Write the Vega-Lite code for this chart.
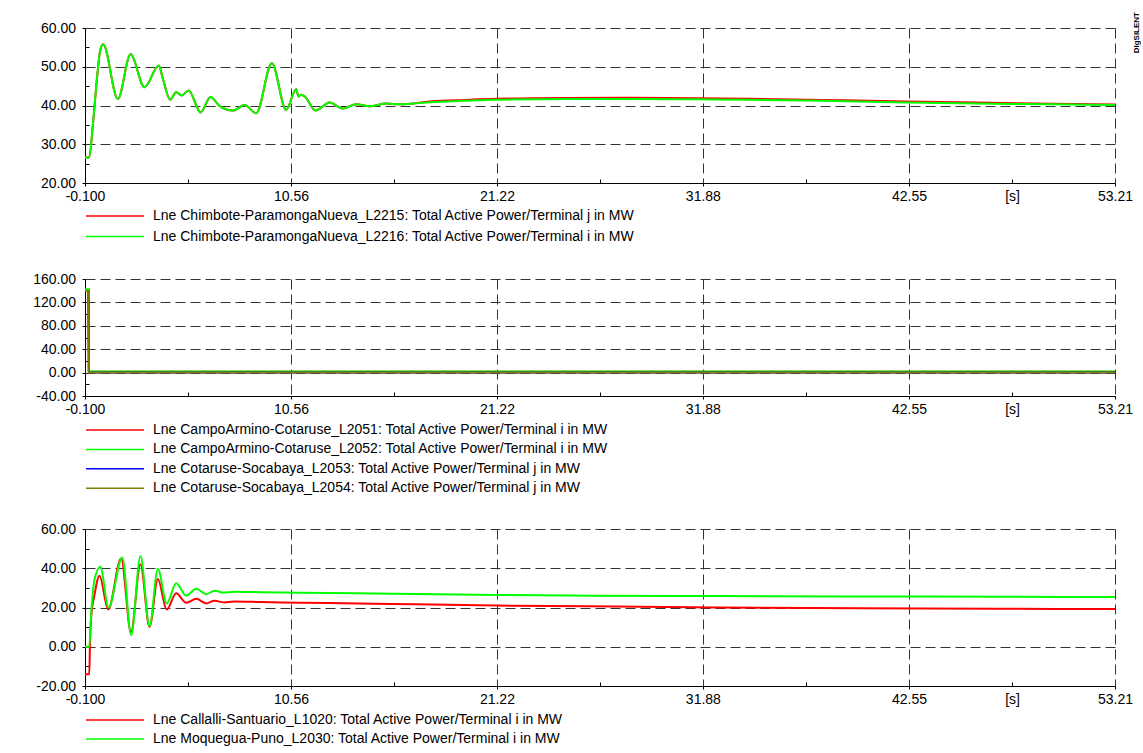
{
  "$schema": "https://vega.github.io/schema/vega-lite/v6.json",
  "background": "white",
  "padding": {"left": 0, "top": 12, "right": 0, "bottom": 0},
  "spacing": 0,
  "resolve": {"scale": {"color": "independent", "x": "independent", "y": "independent"}, "legend": {"color": "independent"}},
  "config": {
    "font": "Liberation Sans",
    "view": {"stroke": null},
    "axis": {
      "labelFont": "Liberation Sans",
      "labelFontSize": 14,
      "labelColor": "black",
      "domainColor": "black",
      "domainWidth": 1,
      "tickColor": "black",
      "tickWidth": 1,
      "gridColor": "#333333",
      "gridDash": [10, 5],
      "gridWidth": 1,
      "labelFlush": false,
      "labelOverlap": false,
      "labelBound": false
    },
    "legend": {
      "labelFont": "Liberation Sans",
      "labelFontSize": 14,
      "labelColor": "black",
      "labelLimit": 1000,
      "symbolType": "stroke",
      "symbolSize": 3364,
      "symbolStrokeWidth": 1.5,
      "clipHeight": 14,
      "labelOffset": 8,
      "padding": 0,
      "orient": "none",
      "direction": "vertical",
      "legendX": 0
    }
  },
  "datasets": {
    "p1": [
      {"s": "Lne Chimbote-ParamongaNueva_L2215: Total Active Power/Terminal j in MW", "t": -0.1, "v": 26.6},
      {"s": "Lne Chimbote-ParamongaNueva_L2215: Total Active Power/Terminal j in MW", "t": 0.12, "v": 26.6},
      {"s": "Lne Chimbote-ParamongaNueva_L2215: Total Active Power/Terminal j in MW", "t": 0.3, "v": 34.6},
      {"s": "Lne Chimbote-ParamongaNueva_L2215: Total Active Power/Terminal j in MW", "t": 0.53, "v": 47.5},
      {"s": "Lne Chimbote-ParamongaNueva_L2215: Total Active Power/Terminal j in MW", "t": 0.69, "v": 54.3},
      {"s": "Lne Chimbote-ParamongaNueva_L2215: Total Active Power/Terminal j in MW", "t": 0.84, "v": 55.8},
      {"s": "Lne Chimbote-ParamongaNueva_L2215: Total Active Power/Terminal j in MW", "t": 1.6, "v": 41.7},
      {"s": "Lne Chimbote-ParamongaNueva_L2215: Total Active Power/Terminal j in MW", "t": 2.26, "v": 53.2},
      {"s": "Lne Chimbote-ParamongaNueva_L2215: Total Active Power/Terminal j in MW", "t": 2.98, "v": 44.7},
      {"s": "Lne Chimbote-ParamongaNueva_L2215: Total Active Power/Terminal j in MW", "t": 3.72, "v": 50.3},
      {"s": "Lne Chimbote-ParamongaNueva_L2215: Total Active Power/Terminal j in MW", "t": 3.92, "v": 47.1},
      {"s": "Lne Chimbote-ParamongaNueva_L2215: Total Active Power/Terminal j in MW", "t": 4.31, "v": 41.5},
      {"s": "Lne Chimbote-ParamongaNueva_L2215: Total Active Power/Terminal j in MW", "t": 4.62, "v": 43.4},
      {"s": "Lne Chimbote-ParamongaNueva_L2215: Total Active Power/Terminal j in MW", "t": 4.91, "v": 42.6},
      {"s": "Lne Chimbote-ParamongaNueva_L2215: Total Active Power/Terminal j in MW", "t": 5.27, "v": 43.9},
      {"s": "Lne Chimbote-ParamongaNueva_L2215: Total Active Power/Terminal j in MW", "t": 5.88, "v": 38.2},
      {"s": "Lne Chimbote-ParamongaNueva_L2215: Total Active Power/Terminal j in MW", "t": 6.4, "v": 42.2},
      {"s": "Lne Chimbote-ParamongaNueva_L2215: Total Active Power/Terminal j in MW", "t": 6.86, "v": 39.9},
      {"s": "Lne Chimbote-ParamongaNueva_L2215: Total Active Power/Terminal j in MW", "t": 7.55, "v": 38.7},
      {"s": "Lne Chimbote-ParamongaNueva_L2215: Total Active Power/Terminal j in MW", "t": 8.16, "v": 40.1},
      {"s": "Lne Chimbote-ParamongaNueva_L2215: Total Active Power/Terminal j in MW", "t": 8.76, "v": 38.0},
      {"s": "Lne Chimbote-ParamongaNueva_L2215: Total Active Power/Terminal j in MW", "t": 9.57, "v": 50.9},
      {"s": "Lne Chimbote-ParamongaNueva_L2215: Total Active Power/Terminal j in MW", "t": 10.31, "v": 38.9},
      {"s": "Lne Chimbote-ParamongaNueva_L2215: Total Active Power/Terminal j in MW", "t": 10.83, "v": 44.2},
      {"s": "Lne Chimbote-ParamongaNueva_L2215: Total Active Power/Terminal j in MW", "t": 10.95, "v": 42.3},
      {"s": "Lne Chimbote-ParamongaNueva_L2215: Total Active Power/Terminal j in MW", "t": 11.09, "v": 42.8},
      {"s": "Lne Chimbote-ParamongaNueva_L2215: Total Active Power/Terminal j in MW", "t": 11.3, "v": 42.2},
      {"s": "Lne Chimbote-ParamongaNueva_L2215: Total Active Power/Terminal j in MW", "t": 11.83, "v": 38.7},
      {"s": "Lne Chimbote-ParamongaNueva_L2215: Total Active Power/Terminal j in MW", "t": 12.56, "v": 40.8},
      {"s": "Lne Chimbote-ParamongaNueva_L2215: Total Active Power/Terminal j in MW", "t": 13.24, "v": 39.2},
      {"s": "Lne Chimbote-ParamongaNueva_L2215: Total Active Power/Terminal j in MW", "t": 13.94, "v": 40.3},
      {"s": "Lne Chimbote-ParamongaNueva_L2215: Total Active Power/Terminal j in MW", "t": 14.63, "v": 39.8},
      {"s": "Lne Chimbote-ParamongaNueva_L2215: Total Active Power/Terminal j in MW", "t": 15.49, "v": 40.5},
      {"s": "Lne Chimbote-ParamongaNueva_L2215: Total Active Power/Terminal j in MW", "t": 16.18, "v": 40.3},
      {"s": "Lne Chimbote-ParamongaNueva_L2215: Total Active Power/Terminal j in MW", "t": 17.9, "v": 41.1},
      {"s": "Lne Chimbote-ParamongaNueva_L2215: Total Active Power/Terminal j in MW", "t": 19.5, "v": 41.45},
      {"s": "Lne Chimbote-ParamongaNueva_L2215: Total Active Power/Terminal j in MW", "t": 21.2, "v": 41.75},
      {"s": "Lne Chimbote-ParamongaNueva_L2215: Total Active Power/Terminal j in MW", "t": 24.8, "v": 41.95},
      {"s": "Lne Chimbote-ParamongaNueva_L2215: Total Active Power/Terminal j in MW", "t": 28.2, "v": 42.0},
      {"s": "Lne Chimbote-ParamongaNueva_L2215: Total Active Power/Terminal j in MW", "t": 31.7, "v": 41.9},
      {"s": "Lne Chimbote-ParamongaNueva_L2215: Total Active Power/Terminal j in MW", "t": 34.3, "v": 41.75},
      {"s": "Lne Chimbote-ParamongaNueva_L2215: Total Active Power/Terminal j in MW", "t": 38.0, "v": 41.45},
      {"s": "Lne Chimbote-ParamongaNueva_L2215: Total Active Power/Terminal j in MW", "t": 42.4, "v": 41.05},
      {"s": "Lne Chimbote-ParamongaNueva_L2215: Total Active Power/Terminal j in MW", "t": 46.0, "v": 40.75},
      {"s": "Lne Chimbote-ParamongaNueva_L2215: Total Active Power/Terminal j in MW", "t": 50.0, "v": 40.45},
      {"s": "Lne Chimbote-ParamongaNueva_L2215: Total Active Power/Terminal j in MW", "t": 53.21, "v": 40.25},
      {"s": "Lne Chimbote-ParamongaNueva_L2216: Total Active Power/Terminal i in MW", "t": -0.1, "v": 26.6},
      {"s": "Lne Chimbote-ParamongaNueva_L2216: Total Active Power/Terminal i in MW", "t": 0.12, "v": 26.6},
      {"s": "Lne Chimbote-ParamongaNueva_L2216: Total Active Power/Terminal i in MW", "t": 0.3, "v": 34.6},
      {"s": "Lne Chimbote-ParamongaNueva_L2216: Total Active Power/Terminal i in MW", "t": 0.53, "v": 47.5},
      {"s": "Lne Chimbote-ParamongaNueva_L2216: Total Active Power/Terminal i in MW", "t": 0.69, "v": 54.3},
      {"s": "Lne Chimbote-ParamongaNueva_L2216: Total Active Power/Terminal i in MW", "t": 0.84, "v": 55.8},
      {"s": "Lne Chimbote-ParamongaNueva_L2216: Total Active Power/Terminal i in MW", "t": 1.6, "v": 41.7},
      {"s": "Lne Chimbote-ParamongaNueva_L2216: Total Active Power/Terminal i in MW", "t": 2.26, "v": 53.2},
      {"s": "Lne Chimbote-ParamongaNueva_L2216: Total Active Power/Terminal i in MW", "t": 2.98, "v": 44.7},
      {"s": "Lne Chimbote-ParamongaNueva_L2216: Total Active Power/Terminal i in MW", "t": 3.72, "v": 50.3},
      {"s": "Lne Chimbote-ParamongaNueva_L2216: Total Active Power/Terminal i in MW", "t": 3.92, "v": 47.1},
      {"s": "Lne Chimbote-ParamongaNueva_L2216: Total Active Power/Terminal i in MW", "t": 4.31, "v": 41.5},
      {"s": "Lne Chimbote-ParamongaNueva_L2216: Total Active Power/Terminal i in MW", "t": 4.62, "v": 43.4},
      {"s": "Lne Chimbote-ParamongaNueva_L2216: Total Active Power/Terminal i in MW", "t": 4.91, "v": 42.6},
      {"s": "Lne Chimbote-ParamongaNueva_L2216: Total Active Power/Terminal i in MW", "t": 5.27, "v": 43.9},
      {"s": "Lne Chimbote-ParamongaNueva_L2216: Total Active Power/Terminal i in MW", "t": 5.88, "v": 38.2},
      {"s": "Lne Chimbote-ParamongaNueva_L2216: Total Active Power/Terminal i in MW", "t": 6.4, "v": 42.2},
      {"s": "Lne Chimbote-ParamongaNueva_L2216: Total Active Power/Terminal i in MW", "t": 6.86, "v": 39.9},
      {"s": "Lne Chimbote-ParamongaNueva_L2216: Total Active Power/Terminal i in MW", "t": 7.55, "v": 38.7},
      {"s": "Lne Chimbote-ParamongaNueva_L2216: Total Active Power/Terminal i in MW", "t": 8.16, "v": 40.1},
      {"s": "Lne Chimbote-ParamongaNueva_L2216: Total Active Power/Terminal i in MW", "t": 8.76, "v": 38.0},
      {"s": "Lne Chimbote-ParamongaNueva_L2216: Total Active Power/Terminal i in MW", "t": 9.57, "v": 50.9},
      {"s": "Lne Chimbote-ParamongaNueva_L2216: Total Active Power/Terminal i in MW", "t": 10.31, "v": 38.9},
      {"s": "Lne Chimbote-ParamongaNueva_L2216: Total Active Power/Terminal i in MW", "t": 10.83, "v": 44.2},
      {"s": "Lne Chimbote-ParamongaNueva_L2216: Total Active Power/Terminal i in MW", "t": 10.95, "v": 42.3},
      {"s": "Lne Chimbote-ParamongaNueva_L2216: Total Active Power/Terminal i in MW", "t": 11.09, "v": 42.8},
      {"s": "Lne Chimbote-ParamongaNueva_L2216: Total Active Power/Terminal i in MW", "t": 11.3, "v": 42.2},
      {"s": "Lne Chimbote-ParamongaNueva_L2216: Total Active Power/Terminal i in MW", "t": 11.83, "v": 38.7},
      {"s": "Lne Chimbote-ParamongaNueva_L2216: Total Active Power/Terminal i in MW", "t": 12.56, "v": 40.8},
      {"s": "Lne Chimbote-ParamongaNueva_L2216: Total Active Power/Terminal i in MW", "t": 13.24, "v": 39.2},
      {"s": "Lne Chimbote-ParamongaNueva_L2216: Total Active Power/Terminal i in MW", "t": 13.94, "v": 40.3},
      {"s": "Lne Chimbote-ParamongaNueva_L2216: Total Active Power/Terminal i in MW", "t": 14.63, "v": 39.8},
      {"s": "Lne Chimbote-ParamongaNueva_L2216: Total Active Power/Terminal i in MW", "t": 15.49, "v": 40.5},
      {"s": "Lne Chimbote-ParamongaNueva_L2216: Total Active Power/Terminal i in MW", "t": 16.18, "v": 40.3},
      {"s": "Lne Chimbote-ParamongaNueva_L2216: Total Active Power/Terminal i in MW", "t": 17.9, "v": 40.9},
      {"s": "Lne Chimbote-ParamongaNueva_L2216: Total Active Power/Terminal i in MW", "t": 19.5, "v": 41.2},
      {"s": "Lne Chimbote-ParamongaNueva_L2216: Total Active Power/Terminal i in MW", "t": 21.2, "v": 41.5},
      {"s": "Lne Chimbote-ParamongaNueva_L2216: Total Active Power/Terminal i in MW", "t": 24.8, "v": 41.7},
      {"s": "Lne Chimbote-ParamongaNueva_L2216: Total Active Power/Terminal i in MW", "t": 28.2, "v": 41.7},
      {"s": "Lne Chimbote-ParamongaNueva_L2216: Total Active Power/Terminal i in MW", "t": 31.7, "v": 41.6},
      {"s": "Lne Chimbote-ParamongaNueva_L2216: Total Active Power/Terminal i in MW", "t": 34.3, "v": 41.5},
      {"s": "Lne Chimbote-ParamongaNueva_L2216: Total Active Power/Terminal i in MW", "t": 38.0, "v": 41.2},
      {"s": "Lne Chimbote-ParamongaNueva_L2216: Total Active Power/Terminal i in MW", "t": 42.4, "v": 40.8},
      {"s": "Lne Chimbote-ParamongaNueva_L2216: Total Active Power/Terminal i in MW", "t": 46.0, "v": 40.5},
      {"s": "Lne Chimbote-ParamongaNueva_L2216: Total Active Power/Terminal i in MW", "t": 50.0, "v": 40.3},
      {"s": "Lne Chimbote-ParamongaNueva_L2216: Total Active Power/Terminal i in MW", "t": 53.21, "v": 40.1}
    ],
    "p2": [
      {"s": "Lne CampoArmino-Cotaruse_L2051: Total Active Power/Terminal i in MW", "t": -0.1, "v": 141.5},
      {"s": "Lne CampoArmino-Cotaruse_L2051: Total Active Power/Terminal i in MW", "t": 0.08, "v": 141.5},
      {"s": "Lne CampoArmino-Cotaruse_L2051: Total Active Power/Terminal i in MW", "t": 0.1, "v": 1.5},
      {"s": "Lne CampoArmino-Cotaruse_L2051: Total Active Power/Terminal i in MW", "t": 53.21, "v": 1.5},
      {"s": "Lne CampoArmino-Cotaruse_L2052: Total Active Power/Terminal i in MW", "t": -0.1, "v": 142.3},
      {"s": "Lne CampoArmino-Cotaruse_L2052: Total Active Power/Terminal i in MW", "t": 0.08, "v": 142.3},
      {"s": "Lne CampoArmino-Cotaruse_L2052: Total Active Power/Terminal i in MW", "t": 0.1, "v": 1.7},
      {"s": "Lne CampoArmino-Cotaruse_L2052: Total Active Power/Terminal i in MW", "t": 53.21, "v": 1.7},
      {"s": "Lne Cotaruse-Socabaya_L2053: Total Active Power/Terminal j in MW", "t": -0.1, "v": 139.4},
      {"s": "Lne Cotaruse-Socabaya_L2053: Total Active Power/Terminal j in MW", "t": 0.08, "v": 139.4},
      {"s": "Lne Cotaruse-Socabaya_L2053: Total Active Power/Terminal j in MW", "t": 0.1, "v": 0.2},
      {"s": "Lne Cotaruse-Socabaya_L2053: Total Active Power/Terminal j in MW", "t": 53.21, "v": 0.2},
      {"s": "Lne Cotaruse-Socabaya_L2054: Total Active Power/Terminal j in MW", "t": -0.1, "v": 139.4},
      {"s": "Lne Cotaruse-Socabaya_L2054: Total Active Power/Terminal j in MW", "t": 0.08, "v": 139.4},
      {"s": "Lne Cotaruse-Socabaya_L2054: Total Active Power/Terminal j in MW", "t": 0.1, "v": 0.0},
      {"s": "Lne Cotaruse-Socabaya_L2054: Total Active Power/Terminal j in MW", "t": 53.21, "v": 0.0}
    ],
    "p3": [
      {"s": "Lne Callalli-Santuario_L1020: Total Active Power/Terminal i in MW", "t": -0.1, "v": -14.0},
      {"s": "Lne Callalli-Santuario_L1020: Total Active Power/Terminal i in MW", "t": 0.12, "v": -14.0},
      {"s": "Lne Callalli-Santuario_L1020: Total Active Power/Terminal i in MW", "t": 0.16, "v": 2.0},
      {"s": "Lne Callalli-Santuario_L1020: Total Active Power/Terminal i in MW", "t": 0.22, "v": 15.2},
      {"s": "Lne Callalli-Santuario_L1020: Total Active Power/Terminal i in MW", "t": 0.39, "v": 26.3},
      {"s": "Lne Callalli-Santuario_L1020: Total Active Power/Terminal i in MW", "t": 0.65, "v": 36.2},
      {"s": "Lne Callalli-Santuario_L1020: Total Active Power/Terminal i in MW", "t": 1.1, "v": 19.0},
      {"s": "Lne Callalli-Santuario_L1020: Total Active Power/Terminal i in MW", "t": 1.77, "v": 45.0},
      {"s": "Lne Callalli-Santuario_L1020: Total Active Power/Terminal i in MW", "t": 2.28, "v": 7.5},
      {"s": "Lne Callalli-Santuario_L1020: Total Active Power/Terminal i in MW", "t": 2.77, "v": 42.1},
      {"s": "Lne Callalli-Santuario_L1020: Total Active Power/Terminal i in MW", "t": 3.24, "v": 10.1},
      {"s": "Lne Callalli-Santuario_L1020: Total Active Power/Terminal i in MW", "t": 3.67, "v": 34.5},
      {"s": "Lne Callalli-Santuario_L1020: Total Active Power/Terminal i in MW", "t": 4.13, "v": 19.0},
      {"s": "Lne Callalli-Santuario_L1020: Total Active Power/Terminal i in MW", "t": 4.62, "v": 27.2},
      {"s": "Lne Callalli-Santuario_L1020: Total Active Power/Terminal i in MW", "t": 5.14, "v": 22.4},
      {"s": "Lne Callalli-Santuario_L1020: Total Active Power/Terminal i in MW", "t": 5.66, "v": 24.4},
      {"s": "Lne Callalli-Santuario_L1020: Total Active Power/Terminal i in MW", "t": 6.17, "v": 22.1},
      {"s": "Lne Callalli-Santuario_L1020: Total Active Power/Terminal i in MW", "t": 6.6, "v": 23.4},
      {"s": "Lne Callalli-Santuario_L1020: Total Active Power/Terminal i in MW", "t": 7.1, "v": 22.6},
      {"s": "Lne Callalli-Santuario_L1020: Total Active Power/Terminal i in MW", "t": 7.6, "v": 23.0},
      {"s": "Lne Callalli-Santuario_L1020: Total Active Power/Terminal i in MW", "t": 9.0, "v": 22.8},
      {"s": "Lne Callalli-Santuario_L1020: Total Active Power/Terminal i in MW", "t": 11.0, "v": 22.4},
      {"s": "Lne Callalli-Santuario_L1020: Total Active Power/Terminal i in MW", "t": 14.0, "v": 22.1},
      {"s": "Lne Callalli-Santuario_L1020: Total Active Power/Terminal i in MW", "t": 17.0, "v": 21.6},
      {"s": "Lne Callalli-Santuario_L1020: Total Active Power/Terminal i in MW", "t": 21.2, "v": 21.0},
      {"s": "Lne Callalli-Santuario_L1020: Total Active Power/Terminal i in MW", "t": 26.0, "v": 20.6},
      {"s": "Lne Callalli-Santuario_L1020: Total Active Power/Terminal i in MW", "t": 32.7, "v": 20.0},
      {"s": "Lne Callalli-Santuario_L1020: Total Active Power/Terminal i in MW", "t": 40.0, "v": 19.6},
      {"s": "Lne Callalli-Santuario_L1020: Total Active Power/Terminal i in MW", "t": 47.0, "v": 19.4},
      {"s": "Lne Callalli-Santuario_L1020: Total Active Power/Terminal i in MW", "t": 53.21, "v": 19.2},
      {"s": "Lne Moquegua-Puno_L2030: Total Active Power/Terminal i in MW", "t": -0.1, "v": 0.0},
      {"s": "Lne Moquegua-Puno_L2030: Total Active Power/Terminal i in MW", "t": 0.12, "v": 0.0},
      {"s": "Lne Moquegua-Puno_L2030: Total Active Power/Terminal i in MW", "t": 0.22, "v": 17.0},
      {"s": "Lne Moquegua-Puno_L2030: Total Active Power/Terminal i in MW", "t": 0.39, "v": 34.0},
      {"s": "Lne Moquegua-Puno_L2030: Total Active Power/Terminal i in MW", "t": 0.69, "v": 40.8},
      {"s": "Lne Moquegua-Puno_L2030: Total Active Power/Terminal i in MW", "t": 1.12, "v": 20.0},
      {"s": "Lne Moquegua-Puno_L2030: Total Active Power/Terminal i in MW", "t": 1.83, "v": 45.5},
      {"s": "Lne Moquegua-Puno_L2030: Total Active Power/Terminal i in MW", "t": 2.29, "v": 5.9},
      {"s": "Lne Moquegua-Puno_L2030: Total Active Power/Terminal i in MW", "t": 2.77, "v": 46.2},
      {"s": "Lne Moquegua-Puno_L2030: Total Active Power/Terminal i in MW", "t": 3.24, "v": 10.5},
      {"s": "Lne Moquegua-Puno_L2030: Total Active Power/Terminal i in MW", "t": 3.67, "v": 39.7},
      {"s": "Lne Moquegua-Puno_L2030: Total Active Power/Terminal i in MW", "t": 4.13, "v": 22.1},
      {"s": "Lne Moquegua-Puno_L2030: Total Active Power/Terminal i in MW", "t": 4.62, "v": 32.3},
      {"s": "Lne Moquegua-Puno_L2030: Total Active Power/Terminal i in MW", "t": 5.14, "v": 26.1},
      {"s": "Lne Moquegua-Puno_L2030: Total Active Power/Terminal i in MW", "t": 5.66, "v": 29.5},
      {"s": "Lne Moquegua-Puno_L2030: Total Active Power/Terminal i in MW", "t": 6.17, "v": 26.8},
      {"s": "Lne Moquegua-Puno_L2030: Total Active Power/Terminal i in MW", "t": 6.6, "v": 28.5},
      {"s": "Lne Moquegua-Puno_L2030: Total Active Power/Terminal i in MW", "t": 7.1, "v": 27.6},
      {"s": "Lne Moquegua-Puno_L2030: Total Active Power/Terminal i in MW", "t": 7.6, "v": 28.0},
      {"s": "Lne Moquegua-Puno_L2030: Total Active Power/Terminal i in MW", "t": 9.0, "v": 27.8},
      {"s": "Lne Moquegua-Puno_L2030: Total Active Power/Terminal i in MW", "t": 11.0, "v": 27.5},
      {"s": "Lne Moquegua-Puno_L2030: Total Active Power/Terminal i in MW", "t": 14.0, "v": 27.3},
      {"s": "Lne Moquegua-Puno_L2030: Total Active Power/Terminal i in MW", "t": 17.0, "v": 26.9},
      {"s": "Lne Moquegua-Puno_L2030: Total Active Power/Terminal i in MW", "t": 21.2, "v": 26.4},
      {"s": "Lne Moquegua-Puno_L2030: Total Active Power/Terminal i in MW", "t": 26.0, "v": 26.0},
      {"s": "Lne Moquegua-Puno_L2030: Total Active Power/Terminal i in MW", "t": 32.7, "v": 25.8},
      {"s": "Lne Moquegua-Puno_L2030: Total Active Power/Terminal i in MW", "t": 40.0, "v": 25.6},
      {"s": "Lne Moquegua-Puno_L2030: Total Active Power/Terminal i in MW", "t": 47.0, "v": 25.5},
      {"s": "Lne Moquegua-Puno_L2030: Total Active Power/Terminal i in MW", "t": 53.21, "v": 25.3}
    ]
  },
  "vconcat": [
    {
      "width": 1030,
      "height": 155,
      "data": {"name": "p1"},
      "title": {"text": "DIgSILENT", "orient": "right", "anchor": "start", "frame": "group", "angle": 270, "align": "right", "baseline": "middle", "fontSize": 8, "fontWeight": "bold", "color": "black", "font": "Liberation Sans", "offset": 4, "dx": 16, "dy": -8},
      "mark": {"type": "line", "strokeWidth": 2, "interpolate": "monotone"},
      "encoding": {
        "x": {
          "field": "t", "type": "quantitative", "title": null,
          "scale": {"domain": [-0.1, 53.21], "nice": false, "zero": false},
          "axis": {
            "values": [-0.1, 5.23, 10.56, 15.89, 21.22, 26.55, 31.88, 37.22, 42.55, 47.88, 53.21],
            "labelExpr": "datum.value === -0.1 ? '-0.100' : datum.value === 47.88 ? '[s]' : indexof([5.23, 15.89, 26.55, 37.22], datum.value) >= 0 ? '' : format(datum.value, '.2f')",
            "tickSize": {"condition": {"test": "indexof([5.23, 15.89, 26.55, 37.22, 47.88], datum.value) >= 0", "value": -4}, "value": 3},
            "gridOpacity": {"condition": {"test": "indexof([5.23, 15.89, 26.55, 37.22, 47.88], datum.value) >= 0", "value": 0}, "value": 1},
            "labelPadding": {"condition": {"test": "datum.value === 47.88", "value": 10.5}, "value": 3.5},
            "minExtent": 89, "maxExtent": 89
          }
        },
        "y": {
          "field": "v", "type": "quantitative", "title": null,
          "scale": {"domain": [20, 60], "nice": false, "zero": false},
          "axis": {
            "values": [20, 25, 30, 35, 40, 45, 50, 55, 60],
            "labelExpr": "datum.value % 10 !== 0 ? '' : format(datum.value, '.2f')",
            "tickSize": {"condition": {"test": "datum.value % 10 !== 0", "value": -4}, "value": 3},
            "gridOpacity": {"condition": {"test": "datum.value % 10 !== 0", "value": 0}, "value": 1},
            "labelPadding": 6.5,
            "minExtent": 85, "maxExtent": 85
          }
        },
        "color": {
          "field": "s", "type": "nominal",
          "scale": {"domain": ["Lne Chimbote-ParamongaNueva_L2215: Total Active Power/Terminal j in MW", "Lne Chimbote-ParamongaNueva_L2216: Total Active Power/Terminal i in MW"], "range": ["#ff0000", "#00ff00"]},
          "legend": {"title": null, "legendY": 181, "rowPadding": 6.6}
        }
      }
    },
    {
      "width": 1030,
      "height": 117,
      "data": {"name": "p2"},
      "mark": {"type": "line", "strokeWidth": 2},
      "encoding": {
        "x": {
          "field": "t", "type": "quantitative", "title": null,
          "scale": {"domain": [-0.1, 53.21], "nice": false, "zero": false},
          "axis": {
            "values": [-0.1, 5.23, 10.56, 15.89, 21.22, 26.55, 31.88, 37.22, 42.55, 47.88, 53.21],
            "labelExpr": "datum.value === -0.1 ? '-0.100' : datum.value === 47.88 ? '[s]' : indexof([5.23, 15.89, 26.55, 37.22], datum.value) >= 0 ? '' : format(datum.value, '.2f')",
            "tickSize": {"condition": {"test": "indexof([5.23, 15.89, 26.55, 37.22, 47.88], datum.value) >= 0", "value": -4}, "value": 3},
            "gridOpacity": {"condition": {"test": "indexof([5.23, 15.89, 26.55, 37.22, 47.88], datum.value) >= 0", "value": 0}, "value": 1},
            "labelPadding": {"condition": {"test": "datum.value === 47.88", "value": 10.5}, "value": 3.5},
            "minExtent": 126, "maxExtent": 126
          }
        },
        "y": {
          "field": "v", "type": "quantitative", "title": null,
          "scale": {"domain": [-40, 160], "nice": false, "zero": false},
          "axis": {
            "values": [-40, -20, 0, 20, 40, 60, 80, 100, 120, 140, 160],
            "labelExpr": "datum.value % 40 !== 0 ? '' : (datum.value < 0 ? '-' : '') + format(abs(datum.value), '.2f')",
            "tickSize": {"condition": {"test": "datum.value % 40 !== 0", "value": -4}, "value": 3},
            "gridOpacity": {"condition": {"test": "datum.value % 40 !== 0", "value": 0}, "value": 1},
            "labelPadding": 6.5,
            "minExtent": 85, "maxExtent": 85
          }
        },
        "color": {
          "field": "s", "type": "nominal",
          "scale": {"domain": ["Lne CampoArmino-Cotaruse_L2051: Total Active Power/Terminal i in MW", "Lne CampoArmino-Cotaruse_L2052: Total Active Power/Terminal i in MW", "Lne Cotaruse-Socabaya_L2053: Total Active Power/Terminal j in MW", "Lne Cotaruse-Socabaya_L2054: Total Active Power/Terminal j in MW"], "range": ["#ff0000", "#00ff00", "#0000ff", "#808000"]},
          "legend": {"title": null, "legendY": 144, "rowPadding": 5.4}
        }
      }
    },
    {
      "width": 1030,
      "height": 157,
      "data": {"name": "p3"},
      "mark": {"type": "line", "strokeWidth": 2, "interpolate": "monotone"},
      "encoding": {
        "x": {
          "field": "t", "type": "quantitative", "title": null,
          "scale": {"domain": [-0.1, 53.21], "nice": false, "zero": false},
          "axis": {
            "values": [-0.1, 5.23, 10.56, 15.89, 21.22, 26.55, 31.88, 37.22, 42.55, 47.88, 53.21],
            "labelExpr": "datum.value === -0.1 ? '-0.100' : datum.value === 47.88 ? '[s]' : indexof([5.23, 15.89, 26.55, 37.22], datum.value) >= 0 ? '' : format(datum.value, '.2f')",
            "tickSize": {"condition": {"test": "indexof([5.23, 15.89, 26.55, 37.22, 47.88], datum.value) >= 0", "value": -4}, "value": 3},
            "gridOpacity": {"condition": {"test": "indexof([5.23, 15.89, 26.55, 37.22, 47.88], datum.value) >= 0", "value": 0}, "value": 1},
            "labelPadding": {"condition": {"test": "datum.value === 47.88", "value": 10.5}, "value": 3.5}
          }
        },
        "y": {
          "field": "v", "type": "quantitative", "title": null,
          "scale": {"domain": [-20, 60], "nice": false, "zero": false},
          "axis": {
            "values": [-20, -10, 0, 10, 20, 30, 40, 50, 60],
            "labelExpr": "datum.value % 20 !== 0 ? '' : (datum.value < 0 ? '-' : '') + format(abs(datum.value), '.2f')",
            "tickSize": {"condition": {"test": "datum.value % 20 !== 0", "value": -4}, "value": 3},
            "gridOpacity": {"condition": {"test": "datum.value % 20 !== 0", "value": 0}, "value": 1},
            "labelPadding": 6.5,
            "minExtent": 85, "maxExtent": 85
          }
        },
        "color": {
          "field": "s", "type": "nominal",
          "scale": {"domain": ["Lne Callalli-Santuario_L1020: Total Active Power/Terminal i in MW", "Lne Moquegua-Puno_L2030: Total Active Power/Terminal i in MW"], "range": ["#ff0000", "#00ff00"]},
          "legend": {"title": null, "legendY": 184, "rowPadding": 5}
        }
      }
    }
  ]
}
